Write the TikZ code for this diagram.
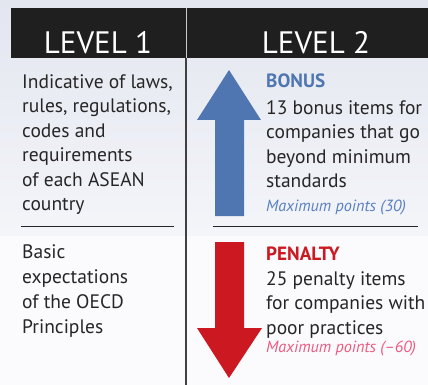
\documentclass[tikz,border=0pt]{standalone}
\usepackage{fontspec}
\setmainfont{PT Sans}
\begin{document}
\begin{tikzpicture}[x=1pt,y=-1pt,
  body/.style={inner sep=0pt,anchor=north west,align=left,text=black!85,
    font=\fontsize{19.5}{24.4}\selectfont},
  head/.style={inner sep=0pt,anchor=base,text=white,font=\fontsize{31}{31}\selectfont},
  tag/.style={inner sep=0pt,anchor=base west,font=\bfseries\fontsize{19.2}{19}\selectfont},
  note/.style={inner sep=0pt,anchor=base west,font=\itshape\fontsize{16.2}{16}\selectfont},
  rule/.style={draw=black!85,line width=0.9pt}]
\definecolor{bonusblue}{HTML}{4F76B1}
\definecolor{notblue}{HTML}{5A80C0}
\definecolor{penred}{HTML}{CC1821}
\definecolor{notpink}{HTML}{EE5A80}
\definecolor{bgtop}{HTML}{E3E6EF}
\definecolor{bgmid}{HTML}{F3F5F9}
\definecolor{bglow}{HTML}{FBFBFD}
\useasboundingbox (0,0) rectangle (428,385);
% background
\fill[bglow] (0,0) rectangle (428,385);
\shade[top color=bgtop,bottom color=bgmid] (0,0) rectangle (428,235);
% header band
\fill[black!88] (11,8) rectangle (428,58);
\draw[white!80!black,line width=0.8pt] (186,8) -- (186,58);
\draw[black!75,line width=1.2pt] (186,58) -- (186,385);
\node[head] (l1) at (98,54) {LEVEL 1};
\node[head] (l2) at (316,54) {LEVEL 2};
% separators
\coordinate (sl1) at (21,226); \coordinate (sl2) at (174,226);
\coordinate (sr1) at (213,226); \coordinate (sr2) at (418,226);
\draw[rule] (sl1) -- (sl2);
\draw[rule] (sr1) -- (sr2);
% left column
\node[body] (lt) at (22,74.5) {Indicative of laws,\\rules, regulations,\\codes and\\requirements\\of each ASEAN\\country};
\node[body,font=\fontsize{19.5}{25}\selectfont] (lb) at (22,244) {Basic\\expectations\\of the OECD\\Principles};
% arrows
\fill[bonusblue] (229,70) -- (261,120) -- (244,120) -- (244,216) -- (215,216) -- (215,120) -- (197,120) -- cycle;
\fill[penred] (229,378) -- (262,328) -- (244,328) -- (244,242) -- (215,242) -- (215,328) -- (197,328) -- cycle;
% right column
\node[tag,text=bonusblue] (bt) at (266,88) {BONUS};
\node[body] (bb) at (266,100.5) {13 bonus items for\\companies that go\\beyond minimum\\standards};
\node[note,text=notblue] (bn) at (266,211) {Maximum points (30)};
\node[tag,text=penred] (pt) at (266,260) {PENALTY};
\node[body] (pb) at (266,271.5) {25 penalty items\\for companies with\\poor practices};
\node[note,text=notpink] (pn) at (266,352) {Maximum points (--60)};
\end{tikzpicture}
\end{document}
